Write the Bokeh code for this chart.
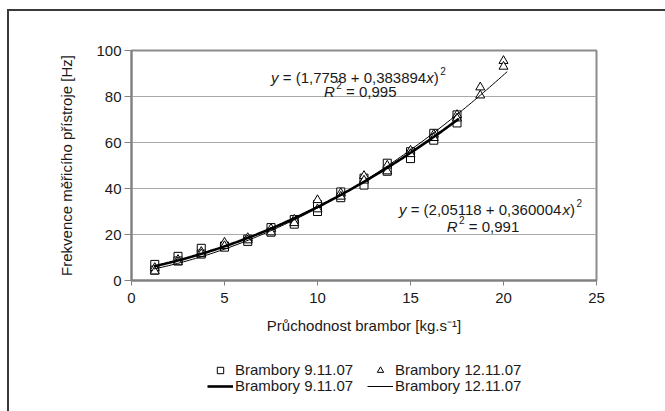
import numpy as np
from bokeh.plotting import figure
from bokeh.layouts import column
from bokeh.models import Range1d, FixedTicker, Label, Legend, LegendItem
from bokeh.embed import file_html
from bokeh.resources import INLINE

# ---- data ----
sq_x = [1.25, 1.25, 2.5, 2.5, 3.75, 3.75, 5, 5, 6.25, 6.25, 7.5, 7.5, 8.75, 8.75,
        10, 10, 11.25, 11.25, 12.5, 12.5, 13.75, 13.75, 15, 15, 16.25, 16.25, 17.5, 17.5]
sq_y = [7, 4.5, 10.5, 8.5, 14, 11.5, 15, 14.5, 18, 17, 23, 21, 26.5, 24.5,
        33, 30, 38.5, 36, 44.5, 41.5, 51, 47.5, 56, 53, 64, 61, 72, 68.5]

tri_x = [1.25, 1.25, 2.5, 2.5, 3.75, 3.75, 5, 5, 6.25, 6.25, 7.5, 7.5, 8.75, 8.75,
         10, 10, 11.25, 11.25, 12.5, 12.5, 13.75, 13.75, 15, 15, 16.25, 16.25, 17.5, 17.5,
         18.75, 18.75, 20, 20]
tri_y = [5.5, 4, 9, 8, 12.5, 11.5, 16.5, 15, 18.5, 17.5, 22.5, 21, 26.5, 25,
         35, 31, 38, 36.5, 45.5, 43.5, 50, 47.5, 56.5, 55, 63.5, 62, 72, 70.5,
         84, 80.5, 95.5, 93]

# trendlines y = (a + b x)^2 as printed in the chart
fit_9 = [2.05118, 0.360004]     # Brambory 9.11.07
fit_9_range = [1.2, 17.6]
fit_12 = [1.7758, 0.383894]     # Brambory 12.11.07
fit_12_range = [1.2, 20.2]

x_ticks = [0, 5, 10, 15, 20, 25]
y_ticks = [0, 20, 40, 60, 80, 100]

eq1 = [("y", "italic"), (" = (1,7758 + 0,383894", "normal"), ("x", "italic"), (")", "normal"), ("2", "sup")]
r1 = [("R", "italic"), ("2", "sup"), (" = 0,995", "normal")]
eq2 = [("y", "italic"), (" = (2,05118 + 0,360004", "normal"), ("x", "italic"), (")", "normal"), ("2", "sup")]
r2 = [("R", "italic"), ("2", "sup"), (" = 0,991", "normal")]

legend_labels = ["Brambory 9.11.07", "Brambory 12.11.07"]

FONT = "Liberation Sans"
FS = "15px"
TXT = "#1a1a1a"

SQ_STYLE = dict(marker="square", size=8, fill_color="white", line_color="black", line_width=1)
TRI_STYLE = dict(marker="triangle", size=9, fill_color="white", line_color="black", line_width=1)
THICK_STYLE = dict(line_color="black", line_width=2.6)
THIN_STYLE = dict(line_color="black", line_width=1)

p = figure(width=656, height=334, output_backend="svg", toolbar_location=None,
           x_range=Range1d(0, 25), y_range=Range1d(0, 100),
           min_border_left=122, min_border_right=69, min_border_top=39, min_border_bottom=65)
p.background_fill_color = "white"
p.border_fill_color = "white"
p.outline_line_color = "#8c8c8c"
p.outline_line_width = 2

p.xgrid.visible = False
p.ygrid.ticker = FixedTicker(ticks=y_ticks)
p.ygrid.grid_line_color = "#a8a8a8"
p.ygrid.grid_line_width = 1

for ax in (p.xaxis[0], p.yaxis[0]):
    ax.axis_line_color = "#808080"
    ax.axis_line_width = 2
    ax.major_tick_line_color = "#808080"
    ax.major_tick_line_width = 1
    ax.minor_tick_line_color = None
    ax.major_tick_in = 0
    ax.major_label_text_font = FONT
    ax.major_label_text_font_size = FS
    ax.major_label_text_color = TXT
    ax.axis_label_text_font = FONT
    ax.axis_label_text_font_size = FS
    ax.axis_label_text_font_style = "normal"
    ax.axis_label_text_color = TXT

p.xaxis.ticker = FixedTicker(ticks=x_ticks)
p.yaxis.ticker = FixedTicker(ticks=y_ticks)
p.xaxis.major_tick_out = 5
p.yaxis.major_tick_out = 7
p.xaxis.major_label_standoff = 7
p.yaxis.major_label_standoff = 3
p.xaxis.axis_label = "Průchodnost brambor [kg.s⁻¹]"
p.yaxis.axis_label = "Frekvence měřicího přístroje [Hz]"
p.xaxis.axis_label_standoff = 11
p.yaxis.axis_label_standoff = 18

p.scatter(sq_x, sq_y, **SQ_STYLE)
p.scatter(tri_x, tri_y, **TRI_STYLE)

xs9 = np.linspace(fit_9_range[0], fit_9_range[1], 120)
p.line(xs9, (fit_9[0] + fit_9[1] * xs9) ** 2, **THICK_STYLE)
xs12 = np.linspace(fit_12_range[0], fit_12_range[1], 120)
p.line(xs12, (fit_12[0] + fit_12[1] * xs12) ** 2, **THIN_STYLE)

# ---- equation labels built from pieces ----
W = {' ': 278, ',': 278, '.': 278, '(': 333, ')': 333, '+': 584, '=': 584,
     'x': 500, 'y': 500, 'R': 722}
EQ = 15
SUP = 10


def tw(s, size):
    return sum(W.get(c, 556) for c in s) * size / 1000.0


def add_pieces(pieces, xd, yd):
    sizes = [SUP if st == "sup" else EQ for _, st in pieces]
    gaps = [1.5 if st == "sup" else 0 for _, st in pieces]
    total = sum(tw(t, s) + g for (t, _), s, g in zip(pieces, sizes, gaps))
    off = -total / 2
    for (t, st), s, g in zip(pieces, sizes, gaps):
        off += g
        core = t.strip(" ")
        lead = len(t) - len(t.lstrip(" "))
        trail = len(t) - len(t.rstrip(" "))
        off += tw(" " * lead, s)
        p.add_layout(Label(x=xd, y=yd, x_offset=off, y_offset=6 if st == "sup" else 0,
                           text=core, text_font=FONT, text_font_size=f"{s}px",
                           text_font_style="italic" if st == "italic" else "normal",
                           text_align="left", text_baseline="alphabetic", text_color=TXT))
        off += tw(core, s) + tw(" " * trail, s)


add_pieces(eq1, 12.2, 88.3)
add_pieces(r1, 12.3, 82.2)
add_pieces(eq2, 19.3, 30.9)
add_pieces(r2, 18.9, 23.5)

# ---- legend strip below the chart (its frame is aligned with the chart's frame) ----
q = figure(width=656, height=66, output_backend="svg", toolbar_location=None,
           x_axis_type=None, y_axis_type=None, x_range=Range1d(0, 1), y_range=Range1d(0, 1),
           min_border_left=0, min_border_right=0, min_border_top=0, min_border_bottom=0)
q.outline_line_color = None
q.xgrid.visible = False
q.ygrid.visible = False
q.background_fill_color = "white"
q.border_fill_color = "white"

nan = [float("nan")]
d_sq = q.scatter(nan, nan, **dict(SQ_STYLE, size=7))
d_tri = q.scatter(nan, nan, **dict(TRI_STYLE, size=8))
d_thick = q.line(nan, nan, **THICK_STYLE)
d_thin = q.line(nan, nan, **THIN_STYLE)


def make_row(rends, loc):
    lg = Legend(items=[LegendItem(label=lab, renderers=[r]) for lab, r in zip(legend_labels, rends)],
                orientation="horizontal", location=loc,
                border_line_color=None, background_fill_alpha=0, padding=0, margin=0,
                spacing=0, glyph_width=26, glyph_height=16, label_height=16, label_width=132,
                label_standoff=2, label_text_font=FONT, label_text_font_size=FS,
                label_text_color=TXT)
    q.add_layout(lg)


make_row([d_sq, d_tri], (76, 33))
make_row([d_thick, d_thin], (76, 17))

layout = column(p, q, spacing=0,
                styles={"margin-left": "7px", "margin-top": "9px",
                        "border-top": "2px solid #3a3a3a", "border-left": "2px solid #3a3a3a"})

open("out.html", "w").write(file_html(layout, INLINE))
